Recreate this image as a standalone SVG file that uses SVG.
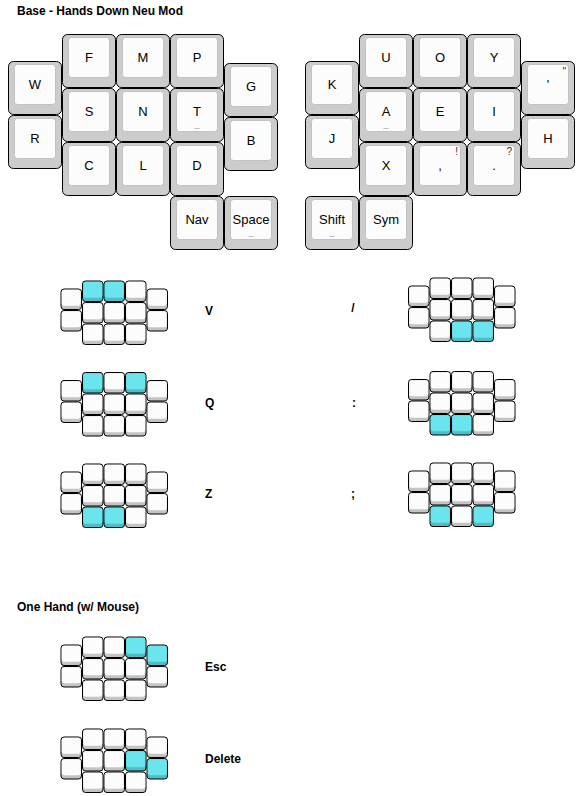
<svg xmlns="http://www.w3.org/2000/svg" xmlns:xlink="http://www.w3.org/1999/xlink" width="585" height="796" viewBox="0 0 585 796">
<style>
.ko{fill:#cccccc;stroke:#000;stroke-width:1}
.ki{fill:#fcfcfc;stroke:#c2c2c2;stroke-width:1}
.t{font-family:"Liberation Sans",Arial,sans-serif;font-size:13px;text-anchor:middle;fill:#000}
.h{font-family:"Liberation Sans",Arial,sans-serif;font-size:9px;text-anchor:middle;fill:#a0a0a0}
.s{font-family:"Liberation Sans",Arial,sans-serif;font-size:10px;text-anchor:end;fill:#333}
.b{font-family:"Liberation Sans",Arial,sans-serif;font-size:12px;font-weight:bold;fill:#000}
.mo{fill:#c4c4c4;stroke:#000;stroke-width:1}
.mi{fill:#fcfcfc}
.co{fill:#4dbec8;stroke:#000;stroke-width:1}
.ci{fill:#6ae4ed}
</style>
<defs>
<g id="mk"><rect x="0.5" y="0.5" width="53" height="53" rx="5" class="ko"/><rect x="6.5" y="3.5" width="41" height="40" rx="3" class="ki"/></g>
<g id="sk"><rect x="0.5" y="0.5" width="20.5" height="20.5" rx="3" class="mo"/><rect x="1.2" y="1.2" width="19.1" height="16" rx="2.5" class="mi"/></g>
<g id="ck"><rect x="0.5" y="0.5" width="20.5" height="20.5" rx="3" class="co"/><rect x="1.2" y="1.2" width="19.1" height="16" rx="2.5" class="ci"/></g>
</defs>
<rect width="585" height="796" fill="#fff"/>
<text class="b" x="17" y="15">Base - Hands Down Neu Mod</text>
<g id="base">
<g id="k-W"><use xlink:href="#mk" x="8" y="61"/><text class="t" x="35" y="89">W</text></g>
<g id="k-R"><use xlink:href="#mk" x="8" y="115"/><text class="t" x="35" y="143">R</text></g>
<g id="k-F"><use xlink:href="#mk" x="62" y="34"/><text class="t" x="89" y="62">F</text></g>
<g id="k-S"><use xlink:href="#mk" x="62" y="88"/><text class="t" x="89" y="116">S</text></g>
<g id="k-C"><use xlink:href="#mk" x="62" y="142"/><text class="t" x="89" y="170">C</text></g>
<g id="k-M"><use xlink:href="#mk" x="116" y="34"/><text class="t" x="143" y="62">M</text></g>
<g id="k-N"><use xlink:href="#mk" x="116" y="88"/><text class="t" x="143" y="116">N</text></g>
<g id="k-L"><use xlink:href="#mk" x="116" y="142"/><text class="t" x="143" y="170">L</text></g>
<g id="k-P"><use xlink:href="#mk" x="170" y="34"/><text class="t" x="197" y="62">P</text></g>
<g id="k-T"><use xlink:href="#mk" x="170" y="88"/><text class="t" x="197" y="116">T</text><text class="h" x="197" y="127.3">_</text></g>
<g id="k-D"><use xlink:href="#mk" x="170" y="142"/><text class="t" x="197" y="170">D</text></g>
<g id="k-Nav"><use xlink:href="#mk" x="170" y="196"/><text class="t" x="197" y="224">Nav</text></g>
<g id="k-G"><use xlink:href="#mk" x="224" y="63"/><text class="t" x="251" y="91">G</text></g>
<g id="k-B"><use xlink:href="#mk" x="224" y="117"/><text class="t" x="251" y="145">B</text></g>
<g id="k-Space"><use xlink:href="#mk" x="224" y="196"/><text class="t" x="251" y="224">Space</text><text class="h" x="251" y="235.3">_</text></g>
<g id="k-K"><use xlink:href="#mk" x="305" y="61"/><text class="t" x="332" y="89">K</text></g>
<g id="k-J"><use xlink:href="#mk" x="305" y="115"/><text class="t" x="332" y="143">J</text></g>
<g id="k-Shift"><use xlink:href="#mk" x="305" y="196"/><text class="t" x="332" y="224">Shift</text><text class="h" x="332" y="235.3">_</text></g>
<g id="k-U"><use xlink:href="#mk" x="359" y="34"/><text class="t" x="386" y="62">U</text></g>
<g id="k-A"><use xlink:href="#mk" x="359" y="88"/><text class="t" x="386" y="116">A</text><text class="h" x="386" y="127.3">_</text></g>
<g id="k-X"><use xlink:href="#mk" x="359" y="142"/><text class="t" x="386" y="170">X</text></g>
<g id="k-Sym"><use xlink:href="#mk" x="359" y="196"/><text class="t" x="386" y="224">Sym</text></g>
<g id="k-O"><use xlink:href="#mk" x="413" y="34"/><text class="t" x="440" y="62">O</text></g>
<g id="k-E"><use xlink:href="#mk" x="413" y="88"/><text class="t" x="440" y="116">E</text></g>
<g id="k-comma"><use xlink:href="#mk" x="413" y="142"/><text class="t" x="440" y="170">,</text><text class="s" x="458" y="155">!</text></g>
<g id="k-Y"><use xlink:href="#mk" x="467" y="34"/><text class="t" x="494" y="62">Y</text></g>
<g id="k-I"><use xlink:href="#mk" x="467" y="88"/><text class="t" x="494" y="116">I</text></g>
<g id="k-dot"><use xlink:href="#mk" x="467" y="142"/><text class="t" x="494" y="170">.</text><text class="s" x="512" y="155">?</text></g>
<g id="k-quote"><use xlink:href="#mk" x="521" y="61"/><text class="t" x="548" y="89">'</text><text class="s" x="566" y="74.5">"</text></g>
<g id="k-H"><use xlink:href="#mk" x="521" y="115"/><text class="t" x="548" y="143">H</text></g>
</g>
<g id="combo-V"><g transform="translate(60.5,280.5)"><use xlink:href="#sk" x="0" y="8"/><use xlink:href="#sk" x="0" y="29.5"/><use xlink:href="#ck" x="21.5" y="0"/><use xlink:href="#ck" x="43" y="0"/><use xlink:href="#sk" x="64.5" y="0"/><use xlink:href="#sk" x="21.5" y="21.5"/><use xlink:href="#sk" x="43" y="21.5"/><use xlink:href="#sk" x="64.5" y="21.5"/><use xlink:href="#sk" x="21.5" y="43"/><use xlink:href="#sk" x="43" y="43"/><use xlink:href="#sk" x="64.5" y="43"/><use xlink:href="#sk" x="86" y="8"/><use xlink:href="#sk" x="86" y="29.5"/></g><text class="b" x="205" y="315">V</text></g>
<g id="combo-slash"><g transform="translate(408,277.5)"><use xlink:href="#sk" x="0" y="8"/><use xlink:href="#sk" x="0" y="29.5"/><use xlink:href="#sk" x="21.5" y="0"/><use xlink:href="#sk" x="43" y="0"/><use xlink:href="#sk" x="64.5" y="0"/><use xlink:href="#sk" x="21.5" y="21.5"/><use xlink:href="#sk" x="43" y="21.5"/><use xlink:href="#sk" x="64.5" y="21.5"/><use xlink:href="#sk" x="21.5" y="43"/><use xlink:href="#ck" x="43" y="43"/><use xlink:href="#ck" x="64.5" y="43"/><use xlink:href="#sk" x="86" y="8"/><use xlink:href="#sk" x="86" y="29.5"/></g><text class="b" x="353" y="312" text-anchor="middle">/</text></g>
<g id="combo-Q"><g transform="translate(60.5,372)"><use xlink:href="#sk" x="0" y="8"/><use xlink:href="#sk" x="0" y="29.5"/><use xlink:href="#ck" x="21.5" y="0"/><use xlink:href="#sk" x="43" y="0"/><use xlink:href="#ck" x="64.5" y="0"/><use xlink:href="#sk" x="21.5" y="21.5"/><use xlink:href="#sk" x="43" y="21.5"/><use xlink:href="#sk" x="64.5" y="21.5"/><use xlink:href="#sk" x="21.5" y="43"/><use xlink:href="#sk" x="43" y="43"/><use xlink:href="#sk" x="64.5" y="43"/><use xlink:href="#sk" x="86" y="8"/><use xlink:href="#sk" x="86" y="29.5"/></g><text class="b" x="205" y="407">Q</text></g>
<g id="combo-colon"><g transform="translate(408,371)"><use xlink:href="#sk" x="0" y="8"/><use xlink:href="#sk" x="0" y="29.5"/><use xlink:href="#sk" x="21.5" y="0"/><use xlink:href="#sk" x="43" y="0"/><use xlink:href="#sk" x="64.5" y="0"/><use xlink:href="#sk" x="21.5" y="21.5"/><use xlink:href="#sk" x="43" y="21.5"/><use xlink:href="#sk" x="64.5" y="21.5"/><use xlink:href="#ck" x="21.5" y="43"/><use xlink:href="#ck" x="43" y="43"/><use xlink:href="#sk" x="64.5" y="43"/><use xlink:href="#sk" x="86" y="8"/><use xlink:href="#sk" x="86" y="29.5"/></g><text class="b" x="354" y="407" text-anchor="middle">:</text></g>
<g id="combo-Z"><g transform="translate(60.5,463.5)"><use xlink:href="#sk" x="0" y="8"/><use xlink:href="#sk" x="0" y="29.5"/><use xlink:href="#sk" x="21.5" y="0"/><use xlink:href="#sk" x="43" y="0"/><use xlink:href="#sk" x="64.5" y="0"/><use xlink:href="#sk" x="21.5" y="21.5"/><use xlink:href="#sk" x="43" y="21.5"/><use xlink:href="#sk" x="64.5" y="21.5"/><use xlink:href="#ck" x="21.5" y="43"/><use xlink:href="#ck" x="43" y="43"/><use xlink:href="#sk" x="64.5" y="43"/><use xlink:href="#sk" x="86" y="8"/><use xlink:href="#sk" x="86" y="29.5"/></g><text class="b" x="205" y="498">Z</text></g>
<g id="combo-semicolon"><g transform="translate(408,462.5)"><use xlink:href="#sk" x="0" y="8"/><use xlink:href="#sk" x="0" y="29.5"/><use xlink:href="#sk" x="21.5" y="0"/><use xlink:href="#sk" x="43" y="0"/><use xlink:href="#sk" x="64.5" y="0"/><use xlink:href="#sk" x="21.5" y="21.5"/><use xlink:href="#sk" x="43" y="21.5"/><use xlink:href="#sk" x="64.5" y="21.5"/><use xlink:href="#ck" x="21.5" y="43"/><use xlink:href="#sk" x="43" y="43"/><use xlink:href="#ck" x="64.5" y="43"/><use xlink:href="#sk" x="86" y="8"/><use xlink:href="#sk" x="86" y="29.5"/></g><text class="b" x="353" y="498" text-anchor="middle">;</text></g>
<text class="b" x="17" y="611">One Hand (w/ Mouse)</text>
<g id="combo-Esc"><g transform="translate(60.5,636.5)"><use xlink:href="#sk" x="0" y="8"/><use xlink:href="#sk" x="0" y="29.5"/><use xlink:href="#sk" x="21.5" y="0"/><use xlink:href="#sk" x="43" y="0"/><use xlink:href="#ck" x="64.5" y="0"/><use xlink:href="#sk" x="21.5" y="21.5"/><use xlink:href="#sk" x="43" y="21.5"/><use xlink:href="#sk" x="64.5" y="21.5"/><use xlink:href="#sk" x="21.5" y="43"/><use xlink:href="#sk" x="43" y="43"/><use xlink:href="#sk" x="64.5" y="43"/><use xlink:href="#ck" x="86" y="8"/><use xlink:href="#sk" x="86" y="29.5"/></g><text class="b" x="205" y="671">Esc</text></g>
<g id="combo-Delete"><g transform="translate(60.5,728.5)"><use xlink:href="#sk" x="0" y="8"/><use xlink:href="#sk" x="0" y="29.5"/><use xlink:href="#sk" x="21.5" y="0"/><use xlink:href="#sk" x="43" y="0"/><use xlink:href="#sk" x="64.5" y="0"/><use xlink:href="#sk" x="21.5" y="21.5"/><use xlink:href="#sk" x="43" y="21.5"/><use xlink:href="#ck" x="64.5" y="21.5"/><use xlink:href="#sk" x="21.5" y="43"/><use xlink:href="#sk" x="43" y="43"/><use xlink:href="#sk" x="64.5" y="43"/><use xlink:href="#sk" x="86" y="8"/><use xlink:href="#ck" x="86" y="29.5"/></g><text class="b" x="205" y="763">Delete</text></g>
<g id="connectors"/>
</svg>
